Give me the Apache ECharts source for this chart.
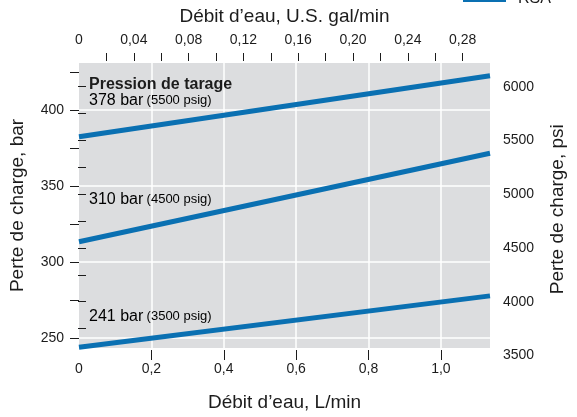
<!DOCTYPE html>
<html>
<head>
<meta charset="utf-8">
<script src="https://cdn.jsdelivr.net/npm/echarts@6/dist/echarts.min.js"></script>
<style>
  html, body { margin: 0; padding: 0; background: #fff; }
  #chart { width: 577px; height: 417px; }
</style>
</head>
<body>
<div id="chart"></div>
<script>
// débit (L/min) aux deux extrémités des courbes
const flowLmin = [0, 1.1356];
// perte de charge (bar) pour chaque pression de tarage
const loss378 = [382.5, 422.6];
const loss310 = [313.4, 371.6];
const loss241 = [244.0, 277.8];

// axes
const bottomTicks = [0.2, 0.4, 0.6, 0.8, 1.0];
const bottomLabels = [0, 0.2, 0.4, 0.6, 0.8, 1.0];
const topTicks = [0.02, 0.04, 0.06, 0.08, 0.10, 0.12, 0.14, 0.16, 0.18, 0.20, 0.22, 0.24, 0.26, 0.28];
const topLabels = [0, 0.04, 0.08, 0.12, 0.16, 0.20, 0.24, 0.28];
const barTicks = [250, 275, 300, 325, 350, 375, 400, 425];
const barLabels = [250, 300, 350, 400];
const psiTicks = [3750, 4000, 4250, 4500, 4750, 5000, 5250, 5500, 5750, 6000];
const psiLabels = [3500, 4000, 4500, 5000, 5500, 6000];

const FONT = '"Liberation Sans", Arial, sans-serif';
const INK = '#1c1c1c';
const BLUE = '#0a70b2';

function comma(v, d) {
    return v === 0 ? '0' : v.toFixed(d).replace('.', ',');
}
function pairs(ys) {
    return ys.map(function (y, i) { return [flowLmin[i], y]; });
}

const chart = echarts.init(document.getElementById('chart'));
window.addEventListener('resize', function () { chart.resize(); });

const gridMarks = bottomTicks.map(function (v) { return { xAxis: v }; })
    .concat(barLabels.map(function (v) { return { yAxis: v }; }));

const tickStyle = { color: INK, width: 1 };
const richLbl = {
    a: { fontSize: 16, fontFamily: FONT, color: INK },
    b: { fontSize: 13, fontFamily: FONT, color: INK }
};

chart.setOption({
    animation: false,
    textStyle: { fontFamily: FONT, color: INK },
    grid: [
        { left: 78, top: 63, width: 412, height: 290, show: true, backgroundColor: '#dcdddf', borderWidth: 0 },
        { left: 78, top: 63, width: 412, height: 292.5, show: false }
    ],
    xAxis: [
        {
            type: 'value', gridIndex: 0, position: 'bottom', min: 0, max: 1.1356, interval: 0.2, offset: 2,
            axisLine: { show: false },
            axisTick: { show: true, length: 10, lineStyle: tickStyle, customValues: bottomTicks },
            axisLabel: { margin: 12, fontSize: 14, color: INK, customValues: bottomLabels,
                formatter: function (v) { return comma(v, 1); } },
            splitLine: { show: false },
            name: 'Débit d’eau, L/min', nameLocation: 'middle', nameGap: 43,
            nameTextStyle: { fontSize: 19, color: INK }
        },
        {
            type: 'value', gridIndex: 0, position: 'top', min: 0, max: 0.3, offset: 2,
            axisLine: { show: false },
            axisTick: { show: true, length: 8, lineStyle: tickStyle, customValues: topTicks },
            axisLabel: { margin: 14, fontSize: 14, color: INK, customValues: topLabels,
                formatter: function (v) { return comma(v, 2); } },
            splitLine: { show: false },
            name: 'Débit d’eau, U.S. gal/min', nameLocation: 'middle', nameGap: 35,
            nameTextStyle: { fontSize: 19, color: INK }
        },
        { type: 'value', gridIndex: 1, show: false, min: 0, max: 1 }
    ],
    yAxis: [
        {
            type: 'value', gridIndex: 0, position: 'left', min: 243.5, max: 431, offset: 1,
            axisLine: { show: false },
            axisTick: { show: true, length: 9, lineStyle: tickStyle, customValues: barTicks },
            axisLabel: { margin: 14, fontSize: 14, color: INK, customValues: barLabels },
            splitLine: { show: false },
            name: 'Perte de charge, bar', nameLocation: 'middle', nameGap: 51, nameRotate: 90,
            nameTextStyle: { fontSize: 19, color: INK }
        },
        {
            type: 'value', gridIndex: 1, position: 'right', min: 3500, max: 6220, offset: 1,
            axisLine: { show: false },
            axisTick: { show: true, length: 8, lineStyle: tickStyle, customValues: psiTicks },
            axisLabel: { margin: 12, fontSize: 14, color: INK, customValues: psiLabels,
                formatter: function (v) { return String(v); } },
            splitLine: { show: false },
            name: 'Perte de charge, psi', nameLocation: 'middle', nameGap: 57, nameRotate: 90,
            nameTextStyle: { fontSize: 19, color: INK }
        }
    ],
    series: [
        {
            type: 'line', xAxisIndex: 0, yAxisIndex: 0, data: [], silent: true,
            markLine: {
                z: 1, silent: true, symbol: 'none', label: { show: false },
                lineStyle: { color: '#ffffff', width: 1.5, type: 'solid' },
                emphasis: { disabled: true },
                data: gridMarks
            }
        },
        { name: '378 bar', type: 'line', z: 3, data: pairs(loss378), showSymbol: false, silent: true,
          lineStyle: { color: BLUE, width: 5 } },
        { name: '310 bar', type: 'line', z: 3, data: pairs(loss310), showSymbol: false, silent: true,
          lineStyle: { color: BLUE, width: 5 } },
        { name: '241 bar', type: 'line', z: 3, data: pairs(loss241), showSymbol: false, silent: true,
          lineStyle: { color: BLUE, width: 5 } }
    ],
    graphic: [
        { type: 'text', x: 89, y: 85, z: 10, style: { text: 'Pression de tarage', font: 'bold 16px ' + FONT,
            fill: INK, verticalAlign: 'middle' } },
        { type: 'text', x: 89, y: 100.5, z: 10, style: { text: '{a|378 bar} {b|(5500 psig)}', verticalAlign: 'middle', rich: richLbl } },
        { type: 'text', x: 89, y: 199.5, z: 10, style: { text: '{a|310 bar} {b|(4500 psig)}', verticalAlign: 'middle', rich: richLbl } },
        { type: 'text', x: 89, y: 316.5, z: 10, style: { text: '{a|241 bar} {b|(3500 psig)}', verticalAlign: 'middle', rich: richLbl } },
        // légende coupée en haut à droite
        { type: 'rect', shape: { x: 463, y: -2, width: 43, height: 4 }, style: { fill: BLUE } },
        { type: 'text', x: 518, y: 7, style: { text: 'RSA', font: '16px ' + FONT, fill: INK, verticalAlign: 'bottom' } }
    ]
});
</script>
</body>
</html>
